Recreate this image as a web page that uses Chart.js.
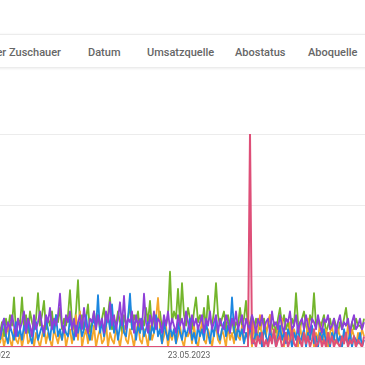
<!DOCTYPE html>
<html>
<head>
<meta charset="utf-8">
<script src="https://cdn.jsdelivr.net/npm/chart.js@4/dist/chart.umd.min.js"></script>
<style>
  html, body { margin:0; padding:0; width:365px; height:365px; overflow:hidden; background:#fff; font-family: Roboto, "Noto Sans", sans-serif; }
  #bar { position:absolute; left:-10px; top:34px; width:400px; height:32px; background:#fff;
         border-top:1px solid #ececec; box-shadow:0 1px 3px rgba(0,0,0,0.12); }
  .tab { position:absolute; top:46px; font-size:11px; font-weight:500; color:#666; white-space:nowrap; line-height:13px; }
  #wrap { position:absolute; left:-60px; top:124px; width:480px; height:250px; }
</style>
</head>
<body>
<div id="bar"></div>
<div class="tab" style="right:304px">Geschlecht der Zuschauer</div>
<div class="tab" style="left:88px">Datum</div>
<div class="tab" style="left:147px">Umsatzquelle</div>
<div class="tab" style="left:235px">Abostatus</div>
<div class="tab" style="left:308px">Aboquelle</div>
<div id="wrap"><canvas id="c" width="480" height="250"></canvas></div>
<script>
// x tick labels and their positions (in point-index units)
const tickLabels = ['13.11.2022', '23.05.2023'];
const tickPositions = [-5.5, 94.5];

// series values (one value per point, 100 = one gridline)
const green = [
  20,35,15,40,25,45,30,70,20,40,
  30,70,25,45,20,50,35,25,40,76,
  30,45,65,25,40,30,50,20,45,35,
  55,25,40,30,45,80,35,25,50,94,
  30,45,25,40,60,20,35,50,30,45,
  25,40,55,30,45,70,25,40,30,50,
  35,20,45,30,40,60,25,45,35,50,
  20,40,30,55,35,65,25,45,30,40,
  50,25,40,30,45,106,35,50,40,82,
  35,90,45,30,55,40,25,50,70,35,
  45,30,55,25,72,40,30,50,90,45,
  30,40,50,25,45,30,40,20,35,30,
  55,30,40,65,25,35,45,20,40,30,
  25,35,40,20,30,45,25,35,20,40,
  55,30,45,25,35,20,40,30,76,35,
  25,40,50,30,20,45,35,76,30,40,
  25,35,45,20,30,40,25,40,30,20,
  35,25,40,55,30,20,35,25,40,30,
  30,25,40];
const purple = [
  15,30,40,20,35,25,45,30,15,40,
  25,35,50,20,40,30,15,45,25,35,
  50,30,20,45,35,55,25,40,30,45,
  75,30,20,45,35,50,25,40,15,35,
  45,25,55,30,20,40,35,50,25,45,
  30,40,20,50,35,63,30,45,25,40,
  63,30,72,25,40,35,50,20,45,30,
  40,25,75,35,20,45,30,50,25,40,
  35,20,45,30,50,25,40,30,20,45,
  30,40,25,50,35,20,45,30,40,25,
  35,45,20,40,30,50,25,35,45,20,
  40,30,25,45,35,20,40,30,50,25,
  35,45,20,40,30,25,45,35,20,40,
  30,45,25,35,40,20,50,30,35,25,
  45,30,20,40,35,50,25,30,45,20,
  35,40,25,45,30,20,40,35,25,45,
  30,20,40,35,45,25,30,40,20,35,
  45,25,35,30,40,20,35,45,25,30,
  40,25,35];
const blue = [
  10,25,40,15,5,30,20,10,35,15,
  25,10,30,20,40,15,5,25,35,10,
  20,30,15,40,25,10,35,20,45,15,
  25,10,30,20,15,40,25,10,30,20,
  35,15,25,45,20,10,30,40,25,73,
  20,35,15,30,45,25,60,20,35,10,
  30,45,20,15,40,75,25,35,10,30,
  20,40,15,25,35,10,30,20,45,15,
  25,5,35,20,10,30,15,25,5,35,
  20,10,30,15,25,40,10,20,5,30,
  15,25,10,35,20,5,30,15,40,20,
  10,25,35,15,30,20,70,25,10,30,
  15,25,5,20,10,30,15,5,25,10,
  20,0,30,15,5,25,10,20,0,15,
  30,10,20,5,25,15,0,20,10,30,
  5,15,25,0,20,10,30,5,15,0,
  20,10,25,5,15,0,20,10,30,5,
  15,0,25,10,5,20,0,15,10,5,
  20,0,10];
const orange = [
  5,20,0,15,30,10,0,25,10,5,
  20,0,15,30,5,10,25,0,20,10,
  0,15,30,5,20,10,0,25,15,5,
  20,10,30,0,15,25,5,20,45,10,
  50,0,15,25,5,20,10,30,0,15,
  25,5,10,35,0,20,10,5,25,15,
  0,20,30,10,5,25,15,0,20,35,
  10,5,25,15,0,30,10,20,40,69,
  25,5,15,30,0,20,10,25,5,15,
  30,10,0,20,15,25,5,30,10,0,
  20,35,10,5,25,15,0,20,30,10,
  5,25,15,0,30,10,20,5,25,15,
  10,30,5,20,15,25,0,35,10,20,
  45,5,25,15,35,45,10,20,5,30,
  15,40,0,20,10,35,5,25,15,0,
  30,10,20,5,40,15,25,0,20,10,
  35,5,15,25,0,20,30,10,5,25,
  15,0,20,10,30,5,25,15,0,20,
  10,25,15];
const pink = [
  0,0,0,0,0,0,0,0,0,0,
  0,0,0,0,0,0,0,0,0,0,
  0,0,0,0,0,0,0,0,0,0,
  0,0,0,0,0,0,0,0,0,0,
  0,0,0,0,0,0,0,0,0,0,
  0,0,0,0,0,0,0,0,0,0,
  0,0,0,0,0,0,0,0,0,0,
  0,0,0,0,0,0,0,0,0,0,
  0,0,0,0,0,0,0,0,0,0,
  0,0,0,0,0,0,0,0,0,0,
  0,0,0,0,0,0,0,0,0,0,
  0,0,0,0,0,0,0,0,0,0,
  0,0,0,0,0,300,5,10,0,15,
  5,20,0,10,0,15,5,25,0,10,
  15,0,5,20,0,10,25,5,0,15,
  10,0,20,5,15,0,10,25,0,5,
  15,0,10,0,20,5,15,0,10,5,
  0,15,5,20,0,10,5,15,0,10,
  5,0,15];

const toPts = arr => arr.map((v, i) => ({x: i, y: v}));
const ds = (data, color, w) => ({
  data: toPts(data), borderColor: color, borderWidth: w, pointRadius: 0,
  tension: 0, fill: false, borderJoinStyle: 'round'
});

new Chart(document.getElementById('c'), {
  type: 'line',
  data: {
    datasets: [
      ds(purple, '#8e3fd8', 1.8),
      ds(pink, '#de4f78', 2),
      ds(blue, '#1c87e0', 1.8),
      ds(orange, '#f4a62a', 1.8),
      ds(green, '#73b52c', 1.8)
    ]
  },
  options: {
    responsive: false,
    animation: false,
    layout: { padding: { top: 10, bottom: 7, left: 0, right: 0 } },
    plugins: { legend: { display: false }, tooltip: { enabled: false } },
    scales: {
      x: {
        type: 'linear', min: -30, max: 210,
        grid: { display: false, drawTicks: false },
        border: { display: false },
        afterBuildTicks: s => { s.ticks = tickPositions.map(v => ({ value: v })); },
        afterFit: s => { s.height = 20; },
        ticks: {
          padding: 4, color: '#606060', maxRotation: 0, autoSkip: false,
          font: { family: 'Roboto', size: 8.5 },
          callback: (v) => { const k = tickPositions.indexOf(v); return k >= 0 ? tickLabels[k] : ''; }
        }
      },
      y: {
        position: 'right', min: 0, max: 300,
        afterFit: s => { s.width = 0; },
        grid: { color: '#ececec', drawTicks: false },
        border: { display: false },
        ticks: { display: false, stepSize: 100 }
      }
    }
  }
});
</script>
</body>
</html>
